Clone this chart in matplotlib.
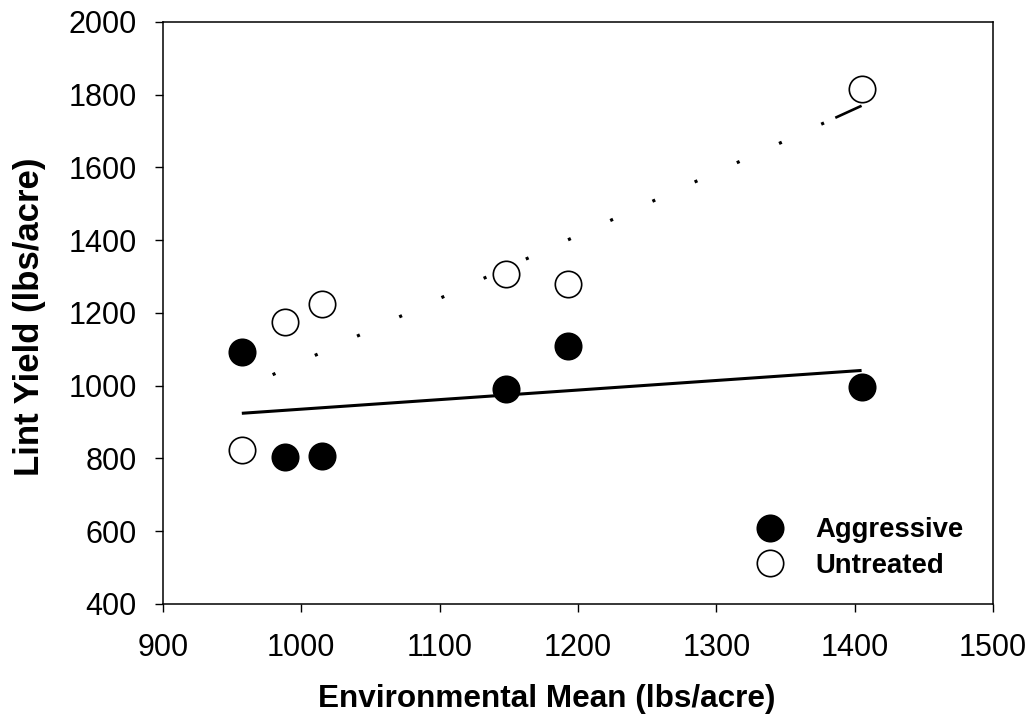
import numpy as np
import matplotlib
matplotlib.use('Agg')
import matplotlib.pyplot as plt
from matplotlib.lines import Line2D

plt.rcParams['font.family'] = ['Liberation Sans', 'DejaVu Sans']
plt.rcParams['lines.scale_dashes'] = False

# values
env_mean = np.array([957, 988, 1015, 1148, 1193, 1405])
aggressive = np.array([1093, 803, 807, 991, 1108, 997])
untreated = np.array([823, 1175, 1225, 1307, 1279, 1815])
series_names = ['Aggressive', 'Untreated']
x_ticks = [900, 1000, 1100, 1200, 1300, 1400, 1500]
y_ticks = [400, 600, 800, 1000, 1200, 1400, 1600, 1800, 2000]
tail_start = 1386  # the dotted fit ends in a short solid dash

fig = plt.figure(figsize=(10.36, 7.23), dpi=100)
ax = fig.add_axes([0.1573, 0.1646, 0.8012, 0.805])

# linear fits
xs = np.array([env_mean.min(), env_mean.max()])
agg_fit = np.polyfit(env_mean, aggressive, 1)
unt_fit = np.polyfit(env_mean, untreated, 1)
ax.plot(xs, np.polyval(agg_fit, xs), color='black', lw=2.2, solid_capstyle='butt', zorder=2)
ax.plot(xs, np.polyval(unt_fit, xs), color='black', lw=2.3,
        linestyle=(9.0, (2.2, 31.2)), zorder=2)
xt = np.array([tail_start, env_mean.max()])
ax.plot(xt, np.polyval(unt_fit, xt), color='black', lw=1.9, solid_capstyle='butt', zorder=2)

ax.plot(env_mean, aggressive, 'o', ms=19, mfc='black', mec='black', mew=1.2, zorder=3)
ax.plot(env_mean, untreated, 'o', ms=19, mfc='white', mec='black', mew=1.2, zorder=3)

ax.set_xlim(900, 1500)
ax.set_ylim(400, 2000)
ax.set_xticks(x_ticks)
ax.set_yticks(y_ticks)
ax.tick_params(axis='both', direction='out', length=6, width=1.0, labelsize=22)
ax.tick_params(axis='x', pad=15)
ax.tick_params(axis='y', pad=13)
for sp in ax.spines.values():
    sp.set_linewidth(1.1)

ax.set_xlabel('Environmental Mean (lbs/acre)', fontsize=22.7, fontweight='bold', labelpad=15)
ax.set_ylabel('Lint Yield (lbs/acre)', fontsize=25, fontweight='bold', labelpad=16)
ax.xaxis.label.set_x(0.462)
ax.yaxis.label.set_y(0.493)

handles = [
    Line2D([], [], ls='none', marker='o', ms=19, mfc='black', mec='black', mew=1.2),
    Line2D([], [], ls='none', marker='o', ms=19, mfc='white', mec='black', mew=1.2),
]
leg = ax.legend(handles, series_names, loc='center left', bbox_to_anchor=(0.698, 0.096),
                frameon=False, borderpad=0, handlelength=1.0, handletextpad=1.17,
                labelspacing=0.35, prop={'size': 19.8, 'weight': 'bold'})

fig.savefig('out.png', dpi=100)
